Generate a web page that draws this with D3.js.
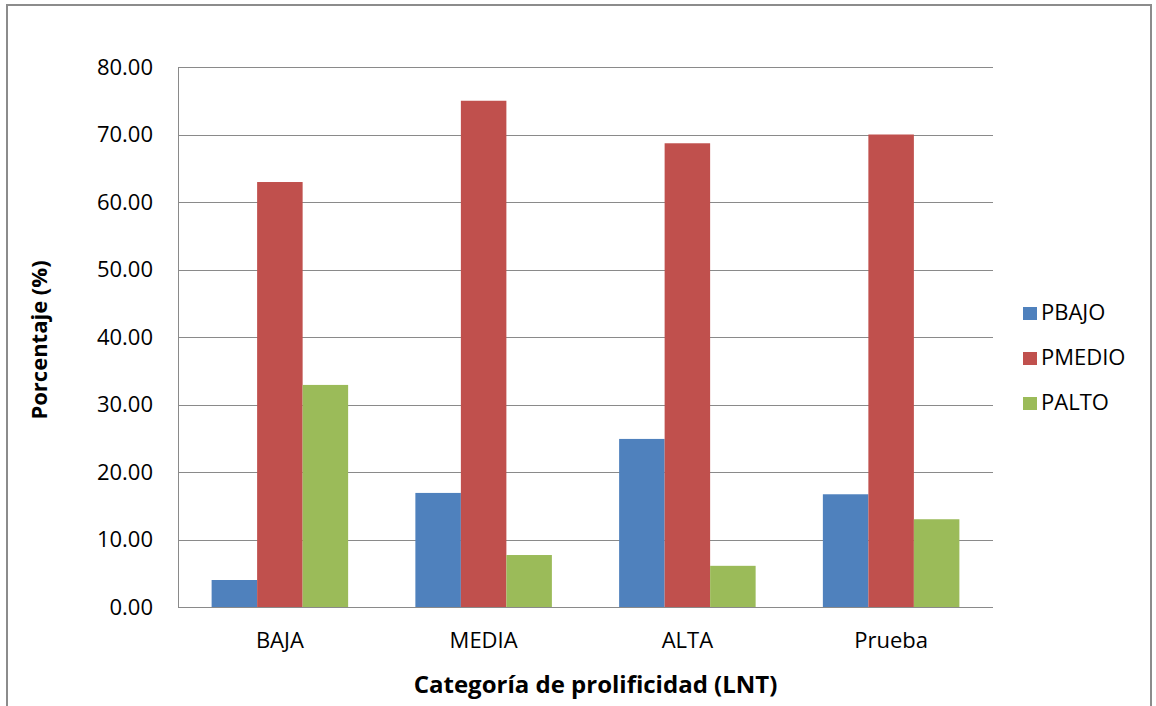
<!DOCTYPE html>
<html>
<head>
<meta charset="utf-8">
<script src="https://cdn.jsdelivr.net/npm/d3@7"></script>
<style>
  html, body { margin: 0; padding: 0; background: #fff; }
  svg { display: block; }
  text { font-family: "Open Sans", "Noto Sans", sans-serif; fill: #000; }
</style>
</head>
<body>
<svg id="chart" width="1156" height="706"></svg>
<script>
// Categories and series
const categories = ["BAJA", "MEDIA", "ALTA", "Prueba"];
const seriesNames = ["PBAJO", "PMEDIO", "PALTO"];
const pbajo  = [4.0, 16.9, 24.9, 16.7];
const pmedio = [62.96, 75.0, 68.7, 70.0];
const palto  = [32.9, 7.7, 6.1, 13.0];
const yTicks = [0, 10, 20, 30, 40, 50, 60, 70, 80];
const colors = ["#4f81bd", "#c0504d", "#9bbb59"];

const seriesValues = [pbajo, pmedio, palto];
const labelFont = '"Open Sans", "Noto Sans", sans-serif';

const svg = d3.select("#chart");

// Outer frame
svg.append("rect")
  .attr("x", 7).attr("y", 5)
  .attr("width", 1144).attr("height", 710)
  .attr("fill", "#fff")
  .attr("stroke", "#8c8c8c")
  .attr("stroke-width", 2);

const plot = { left: 178, top: 67, right: 993, bottom: 607 };

const x = d3.scaleBand()
  .domain(categories)
  .range([plot.left, plot.right])
  .paddingInner(0.33)
  .paddingOuter(0.165);

const xs = d3.scaleBand()
  .domain(seriesNames)
  .range([0, x.bandwidth()]);

const y = d3.scaleLinear()
  .domain([0, 80])
  .range([plot.bottom, plot.top]);

// Gridlines
svg.append("g")
  .selectAll("line")
  .data(yTicks)
  .join("line")
  .attr("x1", plot.left).attr("x2", plot.right)
  .attr("y1", d => Math.round(y(d)) + 0.5)
  .attr("y2", d => Math.round(y(d)) + 0.5)
  .attr("stroke", "#8a8a8a")
  .attr("stroke-width", 1);

// Left axis line
svg.append("line")
  .attr("x1", plot.left + 0.5).attr("x2", plot.left + 0.5)
  .attr("y1", plot.top).attr("y2", plot.bottom)
  .attr("stroke", "#8a8a8a");

// Y axis tick labels
const yAxis = d3.axisLeft(y)
  .tickValues(yTicks)
  .tickFormat(d3.format(".2f"))
  .tickSize(0)
  .tickPadding(25);
const gy = svg.append("g")
  .attr("transform", `translate(${plot.left},0)`)
  .call(yAxis);
gy.select(".domain").remove();
gy.selectAll("text")
  .attr("font-size", 22)
  .attr("fill", "#1a1a1a")
  .style("font-family", labelFont);

// Bars
const groups = svg.append("g")
  .selectAll("g")
  .data(categories)
  .join("g")
  .attr("transform", d => `translate(${x(d)},0)`);

groups.selectAll("rect")
  .data((c, i) => seriesNames.map((s, k) => ({ s, v: seriesValues[k][i], k })))
  .join("rect")
  .attr("x", d => xs(d.s))
  .attr("width", xs.bandwidth())
  .attr("y", d => y(d.v))
  .attr("height", d => y(0) - y(d.v))
  .attr("fill", d => colors[d.k]);

// X axis category labels
const xAxis = d3.axisBottom(x).tickSize(0).tickPadding(25);
const gx = svg.append("g")
  .attr("transform", `translate(0,${plot.bottom})`)
  .call(xAxis);
gx.select(".domain").remove();
gx.selectAll("text")
  .attr("font-size", 22)
  .attr("fill", "#1a1a1a")
  .style("font-family", labelFont);

// Axis titles
svg.append("text")
  .attr("x", (plot.left + plot.right) / 2 + 10)
  .attr("y", 693)
  .attr("text-anchor", "middle")
  .attr("font-size", 24)
  .attr("font-weight", "bold")
  .text("Categoría de prolificidad (LNT)");

svg.append("text")
  .attr("transform", "translate(47,340) rotate(-90)")
  .attr("text-anchor", "middle")
  .attr("font-size", 22)
  .attr("font-weight", "bold")
  .text("Porcentaje (%)");

// Legend
const legend = svg.append("g")
  .selectAll("g")
  .data(seriesNames)
  .join("g")
  .attr("transform", (d, i) => `translate(1023,${307 + i * 45})`);
legend.append("rect")
  .attr("width", 14).attr("height", 13)
  .attr("fill", (d, i) => colors[i]);
legend.append("text")
  .attr("x", 18).attr("y", 13)
  .attr("font-size", 22)
  .attr("fill", "#1a1a1a")
  .text(d => d);
</script>
</body>
</html>
